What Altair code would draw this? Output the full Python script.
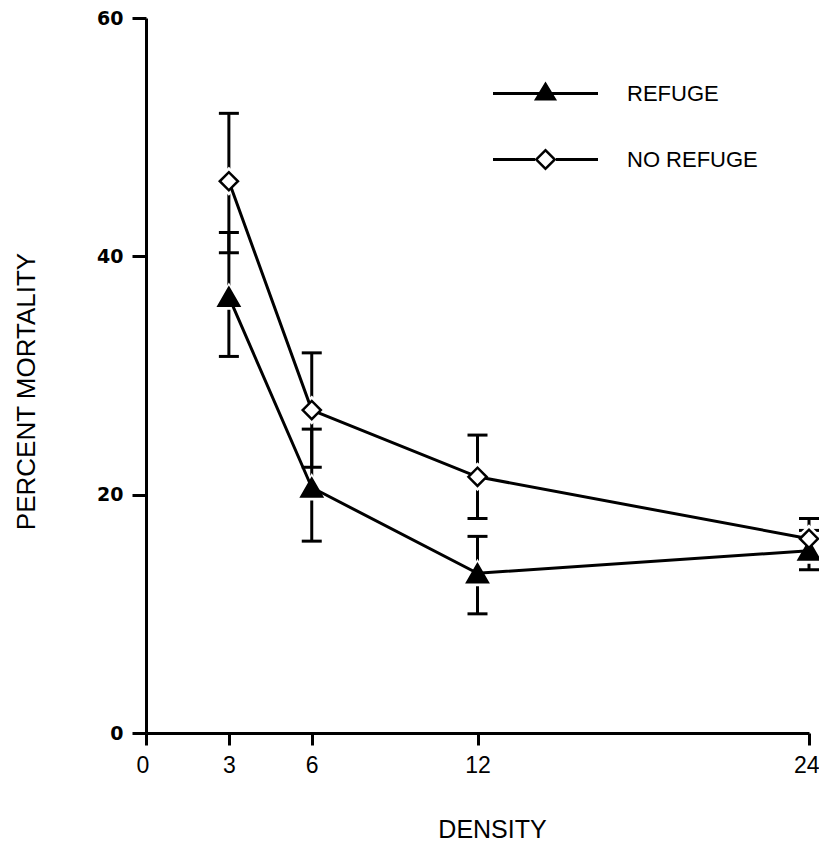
import altair as alt
import pandas as pd

# ---- data ----
density = [3, 6, 12, 24]
series_names = ["REFUGE", "NO REFUGE"]
refuge_mean = [36.6, 20.6, 13.4, 15.3]
refuge_low = [31.6, 16.1, 10.0, 13.7]
refuge_high = [42.0, 25.5, 16.5, 17.0]
norefuge_mean = [46.3, 27.1, 21.5, 16.3]
norefuge_low = [40.3, 22.3, 18.0, 14.6]
norefuge_high = [52.0, 31.9, 25.0, 18.0]
x_ticks = [0, 3, 6, 12, 24]
y_ticks = [0, 20, 40, 60]

records = []
for name, means, lows, highs in zip(
    series_names,
    [refuge_mean, norefuge_mean],
    [refuge_low, norefuge_low],
    [refuge_high, norefuge_high],
):
    for d, m, lo, hi in zip(density, means, lows, highs):
        records.append(dict(series=name, density=d, mean=m, low=lo, high=hi))
df = pd.DataFrame(records)

FONT = "Liberation Sans"

x_scale = alt.Scale(domain=[0, 24], nice=False, zero=False)
y_scale = alt.Scale(domain=[0, 60], nice=False)

x_axis = alt.Axis(
    values=x_ticks, title="DENSITY", grid=False,
    labelFont=FONT, labelFontSize=23, labelColor="black", labelPadding=9,
    labelFlush=True, labelFlushOffset=10, labelOverlap=False,
    tickSize=12, tickWidth=3, tickColor="black",
    domainColor="black", domainWidth=3,
    titleFont=FONT, titleFontSize=25, titleFontWeight="normal", titleColor="black",
    titleBaseline="alphabetic", titleY=104, titleX=346, titleAlign="center",
)
y_axis = alt.Axis(
    values=y_ticks, title="PERCENT MORTALITY", grid=False,
    labelFont="DejaVu Sans", labelFontSize=19, labelFontWeight="bold",
    labelColor="black", labelPadding=9,
    tickSize=14, tickWidth=3, tickColor="black",
    domainColor="black", domainWidth=3,
    titleFont=FONT, titleFontSize=26, titleFontWeight="normal", titleColor="black",
    titleAngle=270, titleBaseline="middle", titleX=-120, titleY=373,
)


def X():
    return alt.X("density:Q", scale=x_scale, axis=x_axis)


def Y(field):
    return alt.Y(f"{field}:Q", scale=y_scale, axis=y_axis)


base = alt.Chart(df)

bars = base.mark_rule(color="black", strokeWidth=3, opacity=1).encode(
    x=X(), y=Y("low"), y2="high:Q"
)
caps = (
    base.transform_fold(["low", "high"], as_=["bound", "value"])
    .mark_tick(orient="horizontal", size=20, thickness=3, color="black", opacity=1)
    .encode(x=X(), y=Y("value"))
)

lines = base.mark_line(strokeWidth=3, color="black", opacity=1).encode(
    x=X(), y=Y("mean"), detail="series:N"
)

# legend symbols: a line with the marker in its middle, drawn as filled outlines
# (unit box -1..1 is scaled to the symbol size)
t = 0.0286
tri_path = (
    f"M-1,{-t}L1,{-t}L1,{t}L-1,{t}Z"
    "M0,-0.23L0.22,0.135L-0.22,0.135Z"
)
dia_path = (
    f"M-1,{-t}L-0.2,{-t}L-0.2,{t}L-1,{t}Z"
    f"M0.2,{-t}L1,{-t}L1,{t}L0.2,{t}Z"
    "M0,-0.21L0.21,0L0,0.21L-0.21,0Z"
    "M0,-0.143L-0.143,0L0,0.143L0.143,0Z"
)


def marker_layers(name, shape, fill, size, halo_size, path, legend_y):
    sub = base.transform_filter(alt.datum.series == name)
    halo = sub.mark_point(
        shape=shape, filled=True, fill="white", stroke="white",
        strokeWidth=3, size=halo_size, opacity=1,
    ).encode(x=X(), y=Y("mean"))
    mark = sub.mark_point(
        shape=shape, filled=True, fill=fill, stroke="black",
        strokeWidth=2.5, size=size, opacity=1,
    ).encode(x=X(), y=Y("mean"))
    # legend entry: a layer with no rows, whose only output is its legend symbol
    key = base.transform_filter("false").mark_point(
        filled=True, fill="black",
    ).encode(
        x=X(), y=Y("mean"),
        opacity=alt.Opacity(
            "series:O",
            scale=alt.Scale(domain=[name], range=[1, 1]),
            legend=alt.Legend(
                title=None, orient="none", legendX=347, legendY=legend_y, padding=0,
                symbolType=path, symbolSize=11025, symbolStrokeWidth=0,
                symbolFillColor="black",
                labelFont=FONT, labelFontSize=22, labelColor="black", labelOffset=29,
            ),
        ),
    )
    return halo, mark, key


halo_r, mark_r, key_r = marker_layers("REFUGE", "triangle-up", "black", 420, 700, tri_path, 23)
halo_n, mark_n, key_n = marker_layers("NO REFUGE", "diamond", "white", 330, 620, dia_path, 89)

chart = (
    alt.layer(bars, caps, halo_r, halo_n, lines, mark_r, mark_n, key_r, key_n)
    .resolve_scale(opacity="independent")
    .resolve_legend(opacity="independent")
    .properties(
        width=663, height=715,
        autosize=alt.AutoSizeParams(type="none"),
        padding={"left": 138, "top": 10, "right": 10, "bottom": 110},
        background="white",
    )
    .configure_view(stroke=None)
)

chart.save("out.html", embed_options={"renderer": "svg", "actions": False})
